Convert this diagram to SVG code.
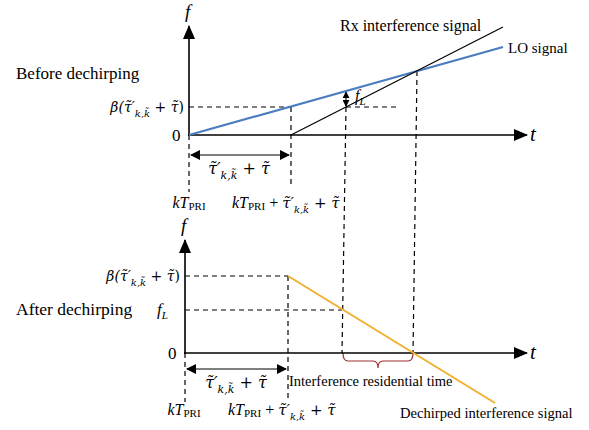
<svg xmlns="http://www.w3.org/2000/svg" width="589" height="430" viewBox="0 0 589 430">
<defs>
<marker id="ah" viewBox="0 0 10 10" refX="9" refY="5" markerWidth="10" markerHeight="10" markerUnits="userSpaceOnUse" orient="auto-start-reverse"><path d="M0,0 L10,5 L0,10 z" fill="#000"/></marker>
<marker id="axh" viewBox="0 0 14 12" refX="13" refY="6" markerWidth="14" markerHeight="12" markerUnits="userSpaceOnUse" orient="auto"><path d="M0,0 L14,6 L0,12 z" fill="#000"/></marker>
<marker id="sh" viewBox="0 0 8 8" refX="7" refY="4" markerWidth="7" markerHeight="7" markerUnits="userSpaceOnUse" orient="auto-start-reverse"><path d="M0,0 L8,4 L0,8 z" fill="#000"/></marker>
</defs>
<style>
.ax{stroke:#000;stroke-width:1.6;fill:none}
.dash{stroke:#000;stroke-width:1.2;stroke-dasharray:5,4;fill:none}
.thin{stroke:#000;stroke-width:1.1;fill:none}
.txt{font-family:"Liberation Serif","Times New Roman",serif;fill:#000}
.m{font-family:"DejaVu Serif",serif;font-style:italic;fill:#000}
.mr{font-family:"Liberation Serif","Times New Roman",serif;font-style:italic;fill:#000}
.up{font-style:normal}
</style>
<rect width="589" height="430" fill="#fff"/>

<g id="top-axes">
<line class="ax" x1="189" y1="136" x2="189" y2="26" marker-end="url(#axh)"/>
<line class="ax" x1="188" y1="135" x2="527" y2="135" marker-end="url(#axh)"/>
<text class="mr" x="185" y="18" font-size="19">f</text>
<text class="mr" x="530" y="141" font-size="21">t</text>
<text class="txt" x="172" y="141" font-size="17">0</text>
<text class="txt" x="16" y="79" font-size="17">Before dechirping</text>
</g>

<g id="connectors">
<line class="dash" x1="189" y1="107" x2="291" y2="107"/>
<line class="dash" x1="291" y1="107" x2="291" y2="187"/>
<line class="dash" x1="189" y1="135" x2="189" y2="192"/>
<line class="dash" x1="346" y1="107" x2="400" y2="107"/>
<line class="dash" x1="346" y1="107" x2="342" y2="353"/>
<line class="dash" x1="417" y1="71" x2="413" y2="353"/>
<line class="thin" x1="191" y1="155" x2="289" y2="155" marker-start="url(#ah)" marker-end="url(#ah)"/>
<line class="thin" x1="346" y1="92" x2="346" y2="106" marker-start="url(#sh)" marker-end="url(#sh)"/>
<line class="dash" x1="185" y1="276" x2="288" y2="276"/>
<line class="dash" x1="185" y1="310" x2="342" y2="310"/>
<line class="dash" x1="288" y1="276" x2="288" y2="402"/>
<line class="dash" x1="185" y1="353" x2="185" y2="402"/>
<line class="thin" x1="187" y1="369" x2="286" y2="369" marker-start="url(#ah)" marker-end="url(#ah)"/>
<path d="M343,353 Q343,361 348,361 L373,361 Q378,361 378,368 Q378,361 383,361 L408,361 Q413,361 413,353" stroke="#a03030" stroke-width="1.2" fill="none"/>
</g>

<g id="lo-signal">
<line x1="189" y1="135" x2="503" y2="47" stroke="#4a7cc0" stroke-width="2.2"/>
<text class="txt" x="508" y="53" font-size="15">LO signal</text>
</g>

<g id="rx-signal">
<line x1="291" y1="135" x2="503" y2="27" stroke="#000" stroke-width="1.2"/>
<text class="txt" x="340" y="31" font-size="16">Rx interference signal</text>
</g>

<g id="top-labels">
<text class="m" x="184" y="112" font-size="14" text-anchor="end">β(τ̃′<tspan font-size="10" dy="5">k,k̃</tspan><tspan dy="-5" class="up"> + </tspan>τ̃<tspan class="up">)</tspan></text>
<text class="mr" x="355" y="101" font-size="16">f<tspan font-size="11" dy="4">L</tspan></text>
<text class="m" x="239" y="174" font-size="16" text-anchor="middle">τ̃′<tspan font-size="11" dy="5">k,k̃</tspan><tspan dy="-5" class="up"> + </tspan>τ̃</text>
<text class="mr" x="189" y="208" font-size="16" text-anchor="middle">kT<tspan class="up" font-size="11" dy="2">PRI</tspan></text>
<text class="mr" x="232" y="208" font-size="16">kT<tspan class="up" font-size="11" dy="2">PRI</tspan><tspan class="up" dy="-2"> + </tspan><tspan class="m" font-size="15">τ̃′<tspan font-size="10" dy="5">k,k̃</tspan><tspan dy="-5" class="up"> + </tspan>τ̃</tspan></text>
</g>

<g id="bottom-axes">
<line class="ax" x1="185" y1="354" x2="185" y2="240" marker-end="url(#axh)"/>
<line class="ax" x1="184" y1="353" x2="527" y2="353" marker-end="url(#axh)"/>
<text class="mr" x="181" y="232" font-size="19">f</text>
<text class="mr" x="530" y="359" font-size="21">t</text>
<text class="txt" x="168" y="359" font-size="17">0</text>
<text class="txt" x="16" y="315" font-size="17.5">After dechirping</text>
</g>

<g id="dechirped-signal">
<line x1="288" y1="276" x2="495" y2="403" stroke="#f0b030" stroke-width="2"/>
<text class="txt" x="400" y="418" font-size="14.6">Dechirped interference signal</text>
</g>

<g id="bottom-labels">
<text class="m" x="180" y="281" font-size="14" text-anchor="end">β(τ̃′<tspan font-size="10" dy="5">k,k̃</tspan><tspan dy="-5" class="up"> + </tspan>τ̃<tspan class="up">)</tspan></text>
<text class="mr" x="157" y="315" font-size="17">f<tspan font-size="11" dy="4">L</tspan></text>
<text class="m" x="236" y="388" font-size="16" text-anchor="middle">τ̃′<tspan font-size="11" dy="5">k,k̃</tspan><tspan dy="-5" class="up"> + </tspan>τ̃</text>
<text class="txt" x="289" y="386" font-size="14.5">Interference residential time</text>
<text class="mr" x="184" y="415" font-size="16" text-anchor="middle">kT<tspan class="up" font-size="11" dy="2">PRI</tspan></text>
<text class="mr" x="228" y="415" font-size="16">kT<tspan class="up" font-size="11" dy="2">PRI</tspan><tspan class="up" dy="-2"> + </tspan><tspan class="m" font-size="15">τ̃′<tspan font-size="10" dy="5">k,k̃</tspan><tspan dy="-5" class="up"> + </tspan>τ̃</tspan></text>
</g>
</svg>
